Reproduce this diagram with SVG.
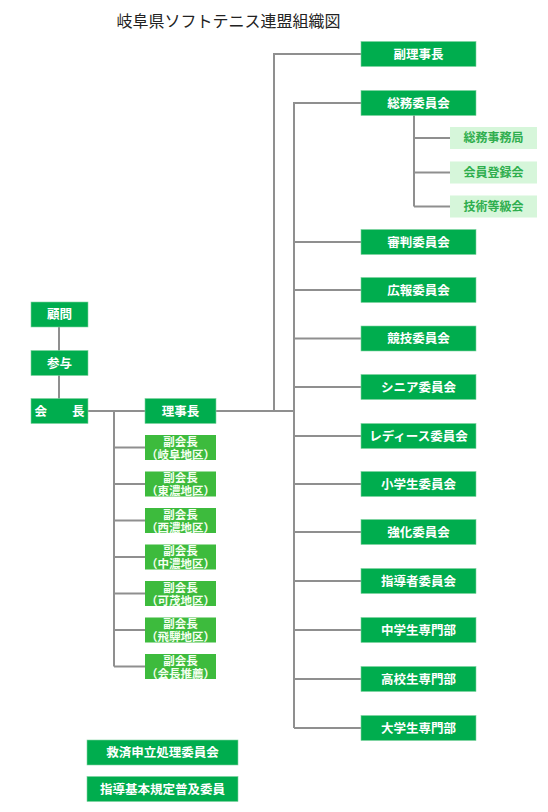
<svg xmlns="http://www.w3.org/2000/svg" width="548" height="812" viewBox="0 0 548 812">
<style>
.t{font-family:"Noto Sans CJK JP","Noto Sans CJK SC",sans-serif;font-weight:bold;font-size:12.5px;text-anchor:middle;fill:#fff}
.v{font-family:"Liberation Sans","Noto Sans CJK JP","Noto Sans CJK SC",sans-serif;font-weight:bold;font-size:11.5px;text-anchor:middle;fill:#f4fff0}
.s{font-family:"Noto Sans CJK JP","Noto Sans CJK SC",sans-serif;font-weight:bold;font-size:12px;text-anchor:middle;fill:#2fae4e}
.m{fill:#00ad4e;stroke:#7fd3a0;stroke-width:0.6}
.g{fill:#3dbb3d}
.l{fill:#d6f6da}
.c{stroke:#8f8f8f;stroke-width:2;fill:none}
</style>
<rect width="548" height="812" fill="#fff"/>
<text x="228.5" y="27" font-family="'Noto Sans CJK JP','Noto Sans CJK SC',sans-serif" font-size="16" text-anchor="middle" fill="#222">岐阜県ソフトテニス連盟組織図</text>
<g id="connectors" class="c">
<path d="M59 327V399"/>
<path d="M88 411H294"/>
<path d="M274 411V54H361"/>
<path d="M294 728V103H361"/>
<path d="M414 115V206.5"/>
<path d="M414 138H450M414 172.5H450M414 206.5H450"/>
<path d="M294 242H361M294 290H361M294 338.5H361M294 387H361M294 436H361M294 484H361M294 532H361M294 581H361M294 630H361M294 679H361M294 728H361"/>
<path d="M114 411V666.5"/>
<path d="M114 447.5H145M114 484H145M114 520.5H145M114 557H145M114 593.5H145M114 630H145M114 666.5H145"/>
</g>
<g id="komon"><rect class="m" x="31" y="302" width="57" height="25"/><text class="t" x="59.5" y="319">顧問</text></g>
<g id="sanyo"><rect class="m" x="31" y="350.5" width="57" height="25"/><text class="t" x="59.5" y="367.5">参与</text></g>
<g id="kaicho"><rect class="m" x="31" y="398.5" width="57" height="25"/><text class="t" x="59.5" y="415.5" xml:space="preserve">会　　長</text></g>
<g id="rijicho"><rect class="m" x="145" y="398.5" width="71" height="25"/><text class="t" x="180.5" y="415.5">理事長</text></g>
<g id="fukurijicho"><rect class="m" x="361" y="41.5" width="115" height="25"/><text class="t" x="418.5" y="58.5">副理事長</text></g>
<g id="somu"><rect class="m" x="361" y="90.5" width="115" height="25"/><text class="t" x="418.5" y="107.5">総務委員会</text></g>
<g id="somujimukyoku"><rect class="l" x="450" y="127" width="87" height="22"/><text class="s" x="493.5" y="142.3">総務事務局</text></g>
<g id="kaiintoroku"><rect class="l" x="450" y="161.5" width="87" height="22"/><text class="s" x="493.5" y="176.8">会員登録会</text></g>
<g id="gijutsu"><rect class="l" x="450" y="195.5" width="87" height="22"/><text class="s" x="493.5" y="210.8">技術等級会</text></g>
<g id="shinpan"><rect class="m" x="361" y="229.5" width="115" height="25"/><text class="t" x="418.5" y="246.5">審判委員会</text></g>
<g id="koho"><rect class="m" x="361" y="277.5" width="115" height="25"/><text class="t" x="418.5" y="294.5">広報委員会</text></g>
<g id="kyogi"><rect class="m" x="361" y="326" width="115" height="25"/><text class="t" x="418.5" y="343">競技委員会</text></g>
<g id="senior"><rect class="m" x="361" y="374.5" width="115" height="25"/><text class="t" x="418.5" y="391.5">シニア委員会</text></g>
<g id="ladies"><rect class="m" x="361" y="423.5" width="115" height="25"/><text class="t" x="418.5" y="440.5">レディース委員会</text></g>
<g id="shogakusei"><rect class="m" x="361" y="471.5" width="115" height="25"/><text class="t" x="418.5" y="488.5">小学生委員会</text></g>
<g id="kyoka"><rect class="m" x="361" y="519.5" width="115" height="25"/><text class="t" x="418.5" y="536.5">強化委員会</text></g>
<g id="shidosha"><rect class="m" x="361" y="568.5" width="115" height="25"/><text class="t" x="418.5" y="585.5">指導者委員会</text></g>
<g id="chugakusei"><rect class="m" x="361" y="617.5" width="115" height="25"/><text class="t" x="418.5" y="634.5">中学生専門部</text></g>
<g id="kokosei"><rect class="m" x="361" y="666.5" width="115" height="25"/><text class="t" x="418.5" y="683.5">高校生専門部</text></g>
<g id="daigakusei"><rect class="m" x="361" y="715.5" width="115" height="25"/><text class="t" x="418.5" y="732.5">大学生専門部</text></g>
<g id="fuku1"><rect class="g" x="145" y="435" width="71" height="25"/><text class="v"><tspan x="180.5" y="445.5">副会長</tspan><tspan x="180.5" y="458.5">（岐阜地区）</tspan></text></g>
<g id="fuku2"><rect class="g" x="145" y="471.5" width="71" height="25"/><text class="v"><tspan x="180.5" y="482">副会長</tspan><tspan x="180.5" y="495">（東濃地区）</tspan></text></g>
<g id="fuku3"><rect class="g" x="145" y="508" width="71" height="25"/><text class="v"><tspan x="180.5" y="518.5">副会長</tspan><tspan x="180.5" y="531.5">（西濃地区）</tspan></text></g>
<g id="fuku4"><rect class="g" x="145" y="544.5" width="71" height="25"/><text class="v"><tspan x="180.5" y="555">副会長</tspan><tspan x="180.5" y="568">（中濃地区）</tspan></text></g>
<g id="fuku5"><rect class="g" x="145" y="581" width="71" height="25"/><text class="v"><tspan x="180.5" y="591.5">副会長</tspan><tspan x="180.5" y="604.5">（可茂地区）</tspan></text></g>
<g id="fuku6"><rect class="g" x="145" y="617.5" width="71" height="25"/><text class="v"><tspan x="180.5" y="628">副会長</tspan><tspan x="180.5" y="641">（飛騨地区）</tspan></text></g>
<g id="fuku7"><rect class="g" x="145" y="654" width="71" height="25"/><text class="v"><tspan x="180.5" y="664.5">副会長</tspan><tspan x="180.5" y="677.5">（会長推薦）</tspan></text></g>
<g id="kyusai"><rect class="m" x="87" y="740" width="151" height="25"/><text class="t" x="162.5" y="757">救済申立処理委員会</text></g>
<g id="fukyu"><rect class="m" x="87" y="776.5" width="151" height="25"/><text class="t" x="162.5" y="793.5">指導基本規定普及委員</text></g>
</svg>
